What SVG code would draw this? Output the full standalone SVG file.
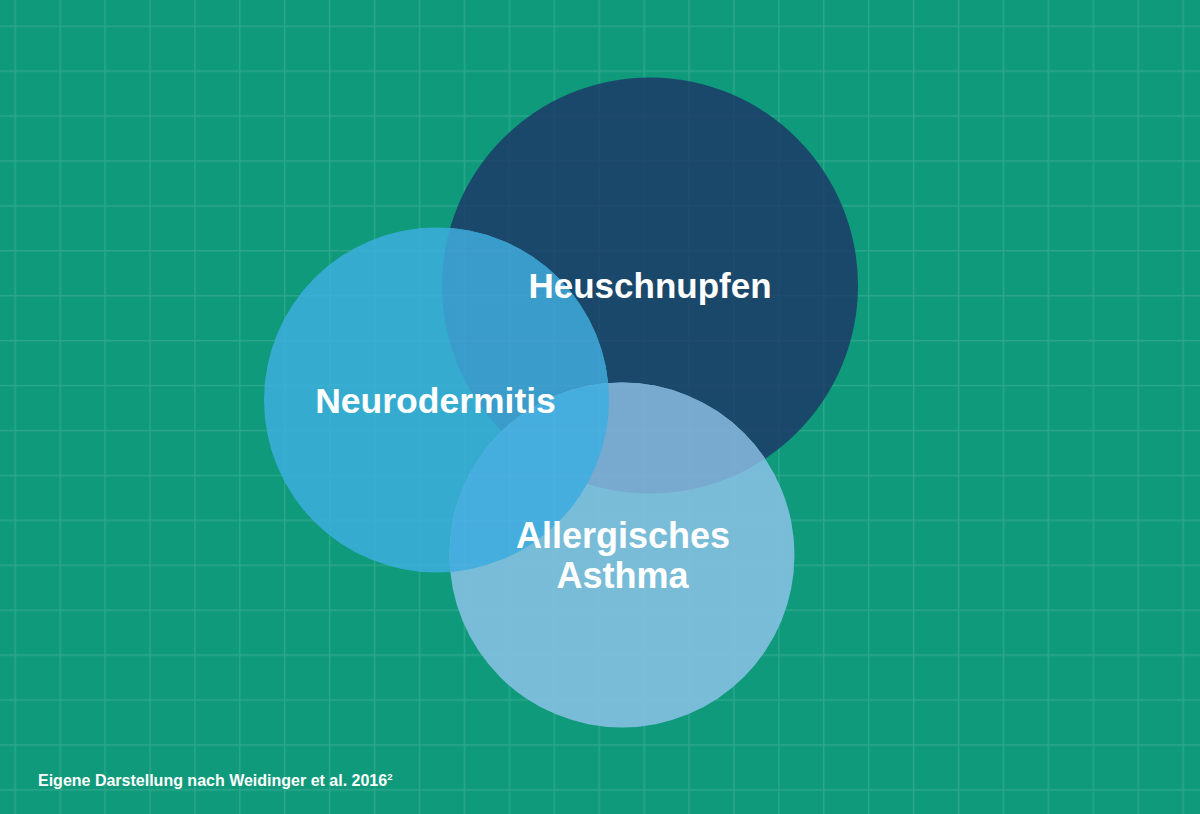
<svg xmlns="http://www.w3.org/2000/svg" width="1200" height="814" viewBox="0 0 1200 814">
  <style>
    .lbl { font-family: "Liberation Sans", Arial, sans-serif; font-weight: bold; fill: #ffffff; text-anchor: middle; font-size: 35px; }
    .foot { font-family: "Liberation Sans", Arial, sans-serif; font-weight: bold; fill: #ffffff; font-size: 16px; }
  </style>
  <defs>
    <pattern id="grid" patternUnits="userSpaceOnUse" x="14.5" y="25.5" width="44.92" height="44.92">
      <rect x="0" y="0" width="1.4" height="44.92" fill="#ffffff" fill-opacity="0.1"/>
      <rect x="1.4" y="0" width="43.52" height="1.4" fill="#ffffff" fill-opacity="0.1"/>
    </pattern>
    <clipPath id="cHeu"><circle cx="650" cy="285.5" r="208"/></clipPath>
    <clipPath id="cNeu"><circle cx="436.5" cy="400" r="172.5"/></clipPath>
  </defs>
  <rect width="1200" height="814" fill="#0f9a7b"/>
  <rect width="1200" height="814" fill="url(#grid)"/>

  <g id="heuschnupfen">
    <circle cx="650" cy="285.5" r="208" fill="#1a486a"/>
  </g>
  <g id="neurodermitis">
    <circle cx="436.5" cy="400" r="172.5" fill="#35accf"/>
    <circle cx="436.5" cy="400" r="172.5" fill="#3a9ccb" clip-path="url(#cHeu)"/>
  </g>
  <g id="asthma">
    <circle cx="622" cy="555" r="172.5" fill="#79bcd8"/>
    <circle cx="622" cy="555" r="172.5" fill="#78a9cf" clip-path="url(#cHeu)"/>
    <circle cx="622" cy="555" r="172.5" fill="#46aede" clip-path="url(#cNeu)"/>
  </g>
  <rect width="1200" height="814" fill="url(#grid)" opacity="0.2"/>

  <g id="labels">
    <text class="lbl" x="650" y="298">Heuschnupfen</text>
    <text class="lbl" x="435.5" y="413" style="font-size:35.5px">Neurodermitis</text>
    <text class="lbl" x="623" y="548" style="font-size:36px">Allergisches</text>
    <text class="lbl" x="622.5" y="588" style="font-size:36px">Asthma</text>
  </g>
  <g id="connectors"></g>
  <text class="foot" x="38" y="786">Eigene Darstellung nach Weidinger et al. 2016<tspan style="font-size:9.5px" dy="-6">2</tspan></text>
</svg>
